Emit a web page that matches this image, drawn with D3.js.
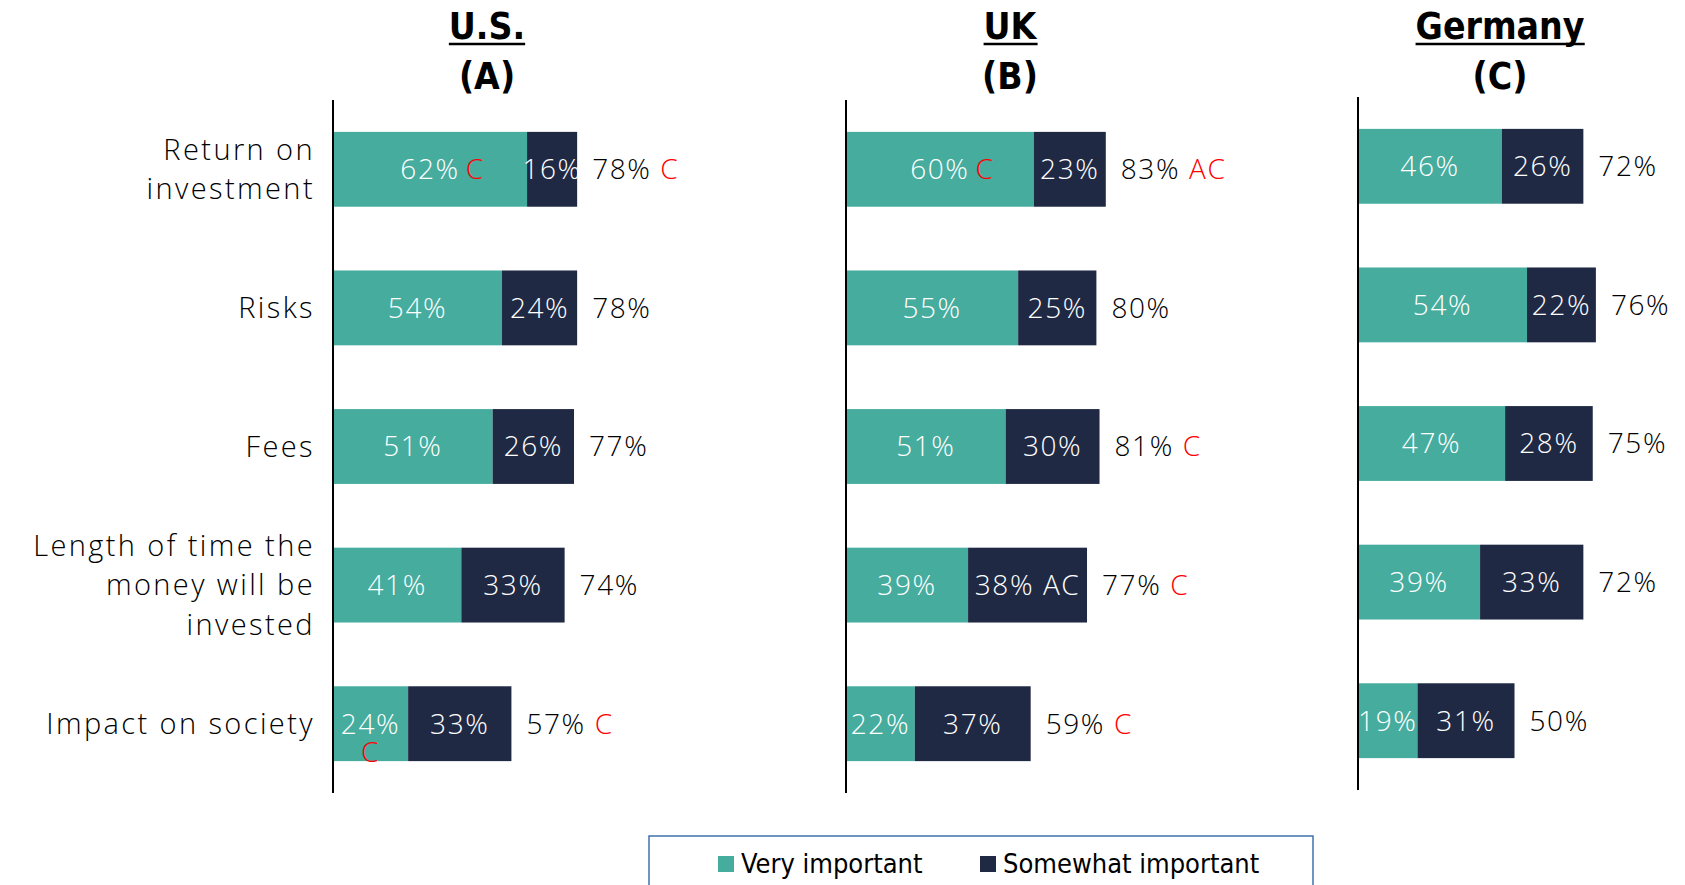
<!doctype html>
<html lang="en">
<head>
<meta charset="utf-8" />
<style>
  body { margin: 0; background: #fff; }
  svg text { font-family: "Open Sans", "Noto Sans", sans-serif; }
  svg .cat-label { font-size: 29px; font-weight: 300; fill: #000; text-anchor: end; letter-spacing: 2.4px; }
  svg .val-label { font-size: 28px; font-weight: 300; fill: #fff; letter-spacing: 1.6px; }
  svg .tot-label { font-size: 28px; font-weight: 300; fill: #000; letter-spacing: 1.6px; }
  svg .sig { fill: #ff0000; }
  svg .sig-white { fill: #fff; }
  svg .title { font-family: "Liberation Sans Narrow", "DejaVu Sans Condensed", sans-serif; font-size: 37px; font-weight: bold; text-anchor: middle; fill: #000; }
  svg .legend text { font-family: "Liberation Sans Narrow", "DejaVu Sans Condensed", sans-serif; font-size: 27px; fill: #000; }
</style>
</head>
<body>
<div id="chart"></div>
<script src="https://cdn.jsdelivr.net/npm/d3@7"></script>
<script>
// categories (label lines)
var categories = ["Return on investment", "Risks", "Fees", "Length of time the money will be invested", "Impact on society"];
var categoryLines = [["Return on", "investment"], ["Risks"], ["Fees"], ["Length of time the", "money will be", "invested"], ["Impact on society"]];

var countries = ["U.S.", "UK", "Germany"];
var countryCodes = ["(A)", "(B)", "(C)"];

// Very important
var usVery = [62, 54, 51, 41, 24];
var ukVery = [60, 55, 51, 39, 22];
var deVery = [46, 54, 47, 39, 19];
// Somewhat important
var usSome = [16, 24, 26, 33, 33];
var ukSome = [23, 25, 30, 38, 37];
var deSome = [26, 22, 28, 33, 31];
// Total
var usTotal = [78, 78, 77, 74, 57];
var ukTotal = [83, 80, 81, 77, 59];
var deTotal = [72, 76, 75, 72, 50];
// significance letters
var usVerySig = ["C", "", "", "", "C"];
var ukVerySig = ["C", "", "", "", ""];
var deVerySig = ["", "", "", "", ""];
var usSomeSig = ["", "", "", "", ""];
var ukSomeSig = ["", "", "", "AC", ""];
var deSomeSig = ["", "", "", "", ""];
var usTotalSig = ["C", "", "", "", "C"];
var ukTotalSig = ["AC", "", "C", "C", "C"];
var deTotalSig = ["", "", "", "", ""];

var seriesNames = ["Very important", "Somewhat important"];
var colors = ["#45ac9e", "#202944"];

var width = 1685, height = 885;

var svg = d3.select("#chart").append("svg")
    .attr("width", width)
    .attr("height", height);

var panels = [
  {name: countries[0], code: countryCodes[0], very: usVery, some: usSome, total: usTotal, vs: usVerySig, ss: usSomeSig, ts: usTotalSig, x0: 333, y0: 100, y1: 793, cx: 487},
  {name: countries[1], code: countryCodes[1], very: ukVery, some: ukSome, total: ukTotal, vs: ukVerySig, ss: ukSomeSig, ts: ukTotalSig, x0: 846, y0: 100, y1: 793, cx: 1010},
  {name: countries[2], code: countryCodes[2], very: deVery, some: deSome, total: deTotal, vs: deVerySig, ss: deSomeSig, ts: deTotalSig, x0: 1358, y0: 97, y1: 790, cx: 1500}
];

var x = d3.scaleLinear().domain([0, 100]).range([0, 313]);

// category labels (left of US panel)
var yUS = d3.scaleBand().domain(categories).range([panels[0].y0, panels[0].y1]).paddingInner(0.46).paddingOuter(0.23);
var cats = svg.append("g").attr("id", "categories");
categories.forEach(function(c, i) {
  var lines = categoryLines[i];
  var cy = yUS(c) + yUS.bandwidth() / 2;
  var lh = 39.5;
  var t = cats.append("text").attr("class", "cat-label")
    .attr("x", 315)
    .attr("y", cy - (lines.length - 1) * lh / 2);
  lines.forEach(function(l, j) {
    t.append("tspan").attr("x", 315).attr("dy", j === 0 ? "0.35em" : lh).text(l);
  });
});

panels.forEach(function(p) {
  var y = d3.scaleBand().domain(categories).range([p.y0, p.y1]).paddingInner(0.46).paddingOuter(0.23);
  var g = svg.append("g").attr("transform", "translate(" + p.x0 + ",0)");

  // title
  var t1 = g.append("text").attr("class", "title")
    .attr("x", p.cx - p.x0).attr("y", 39).text(p.name);
  var bb = t1.node().getBBox();
  g.append("line")
    .attr("x1", bb.x).attr("x2", bb.x + bb.width)
    .attr("y1", 44).attr("y2", 44)
    .attr("stroke", "#000").attr("stroke-width", 2.5);
  g.append("text").attr("class", "title")
    .attr("x", p.cx - p.x0).attr("y", 89).text(p.code);

  var rows = categories.map(function(c, i) {
    return {cat: c, very: p.very[i], some: p.some[i], total: p.total[i], vs: p.vs[i], ss: p.ss[i], ts: p.ts[i]};
  });

  // very important
  g.selectAll("rect.very").data(rows).enter().append("rect")
    .attr("class", "very")
    .attr("x", 0)
    .attr("y", function(d) { return y(d.cat); })
    .attr("width", function(d) { return x(d.very); })
    .attr("height", y.bandwidth())
    .attr("fill", colors[0]);

  // somewhat important
  g.selectAll("rect.some").data(rows).enter().append("rect")
    .attr("class", "some")
    .attr("x", function(d) { return x(d.very); })
    .attr("y", function(d) { return y(d.cat); })
    .attr("width", function(d) { return x(d.some); })
    .attr("height", y.bandwidth())
    .attr("fill", colors[1]);

  // teal segment: number centred, letter tacked on after (or below if no room)
  rows.forEach(function(d) {
    var segW = x(d.very);
    var cx = segW / 2;
    var cy = y(d.cat) + y.bandwidth() / 2;
    var num = g.append("text").attr("class", "val-label")
      .attr("x", cx).attr("y", cy).attr("dy", "0.35em")
      .attr("text-anchor", "middle").text(d.very + "%");
    if (d.vs) {
      var nb = num.node().getBBox();
      if (nb.x + nb.width + 30 < segW) {
        g.append("text").attr("class", "val-label sig")
          .attr("x", nb.x + nb.width + 6).attr("y", cy).attr("dy", "0.35em").text(d.vs);
      } else {
        g.append("text").attr("class", "val-label sig")
          .attr("x", cx).attr("y", cy + 28).attr("dy", "0.35em")
          .attr("text-anchor", "middle").text(d.vs);
      }
    }
  });

  // navy segment: whole label centred
  rows.forEach(function(d) {
    var cx = x(d.very) + x(d.some) / 2;
    var cy = y(d.cat) + y.bandwidth() / 2;
    g.append("text").attr("class", "val-label")
      .attr("x", cx).attr("y", cy).attr("dy", "0.35em")
      .attr("text-anchor", "middle")
      .text(d.some + "%" + (d.ss ? " " + d.ss : ""));
  });

  // totals
  g.selectAll("text.tot-label").data(rows).enter().append("text")
    .attr("class", "tot-label")
    .attr("x", function(d) { return x(d.total) + 15; })
    .attr("y", function(d) { return y(d.cat) + y.bandwidth() / 2; })
    .attr("dy", "0.35em")
    .each(function(d) {
      d3.select(this).append("tspan").text(d.total + "%");
      if (d.ts) d3.select(this).append("tspan").attr("class", "sig").text(" " + d.ts);
    });

  // axis line
  g.append("line")
    .attr("x1", 0).attr("x2", 0)
    .attr("y1", p.y0).attr("y2", p.y1)
    .attr("stroke", "#000").attr("stroke-width", 2);
});

// legend
var legend = svg.append("g").attr("class", "legend");
legend.append("rect")
  .attr("x", 649).attr("y", 836).attr("width", 664).attr("height", 70)
  .attr("fill", "none").attr("stroke", "#3f72af").attr("stroke-width", 1.5);
var legX = [718, 980];
seriesNames.forEach(function(s, i) {
  legend.append("rect")
    .attr("x", legX[i]).attr("y", 856).attr("width", 16).attr("height", 16)
    .attr("fill", colors[i]);
  legend.append("text")
    .attr("x", legX[i] + 23).attr("y", 873).text(s);
});
</script>
</body>
</html>
